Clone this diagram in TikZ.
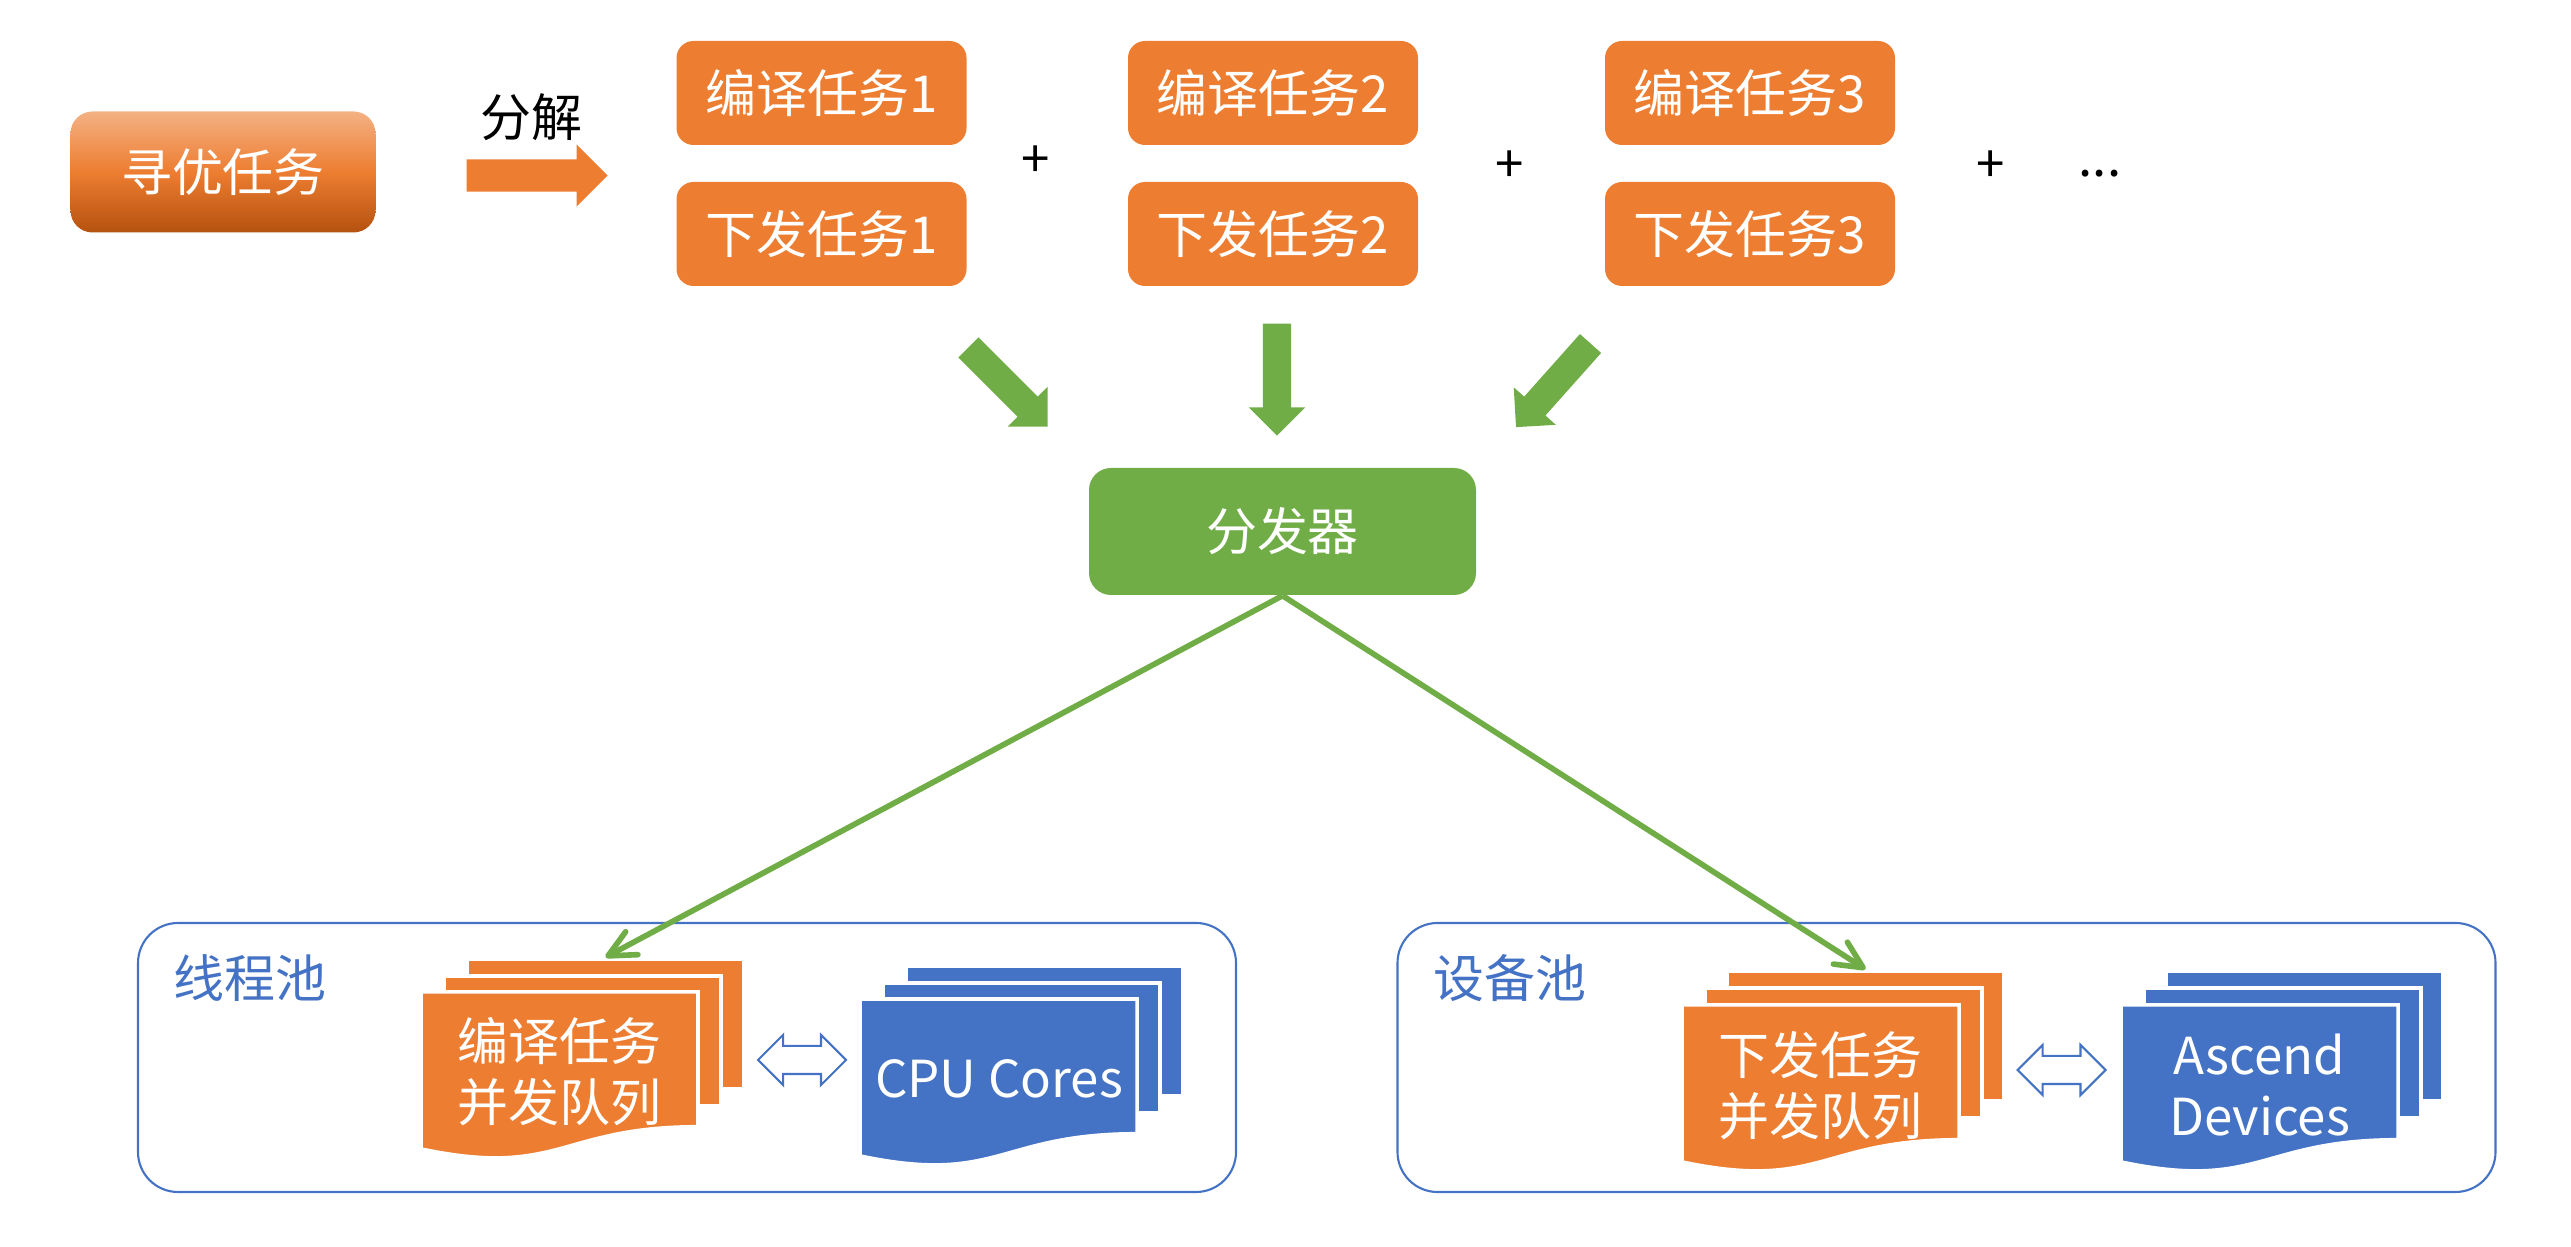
\documentclass[tikz,border=0pt]{standalone}
\usepackage{fontspec}
\setmainfont{Noto Sans CJK SC}
\usepackage{tikz}
\usetikzlibrary{shapes,arrows.meta,positioning}

\definecolor{myorange}{HTML}{ED7D31}
\definecolor{mygreen}{HTML}{70AD47}
\definecolor{myblue}{HTML}{4472C4}
\definecolor{orangetop}{HTML}{F4B183}
\definecolor{orangebot}{HTML}{B5520F}

\begin{document}
\begin{tikzpicture}[
    font={\fontsize{14.5pt}{17.3pt}\selectfont},
    task/.style={fill=myorange, text=white, rounded corners=0.17cm, minimum width=2.9cm, minimum height=1.04cm, inner sep=0},
    garrow/.style={single arrow, fill=mygreen, minimum height=1.12cm, inner xsep=0, inner ysep=0.135cm, single arrow head extend=0.14cm, anchor=tail},
    feed/.style={draw=mygreen, line width=1.6pt, -{Straight Barb[length=2.7mm, width=2.6mm, round]}},
    pool/.style={draw=myblue, line width=0.6pt, rounded corners=0.4cm, minimum width=10.98cm, minimum height=2.69cm},
    page/.style={draw=white, line width=1pt, minimum width=2.77cm, minimum height=1.3cm, inner sep=0},
    front/.style={draw=white, line width=1pt},
    qtext/.style={text=white, align=center},
    link/.style={double arrow, draw=myblue, fill=white, line width=0.6pt, minimum height=0.88cm, inner xsep=0, inner ysep=0.13cm, double arrow head extend=0.11cm}
]
    \useasboundingbox (0,0) rectangle (25.71,12.47);

    % the search task and its split
    \node[text=white, rounded corners=0.22cm, minimum width=3.05cm, minimum height=1.21cm, top color=orangetop, bottom color=orangebot, middle color=myorange] (search) at (2.23,10.75) {寻优任务};
    \node[single arrow, fill=myorange, minimum height=1.41cm, inner xsep=0, inner ysep=0.155cm, single arrow head extend=0.15cm, anchor=tail] (split) at (4.66,10.715) {};
    \node (splitlabel) at (5.31,11.30) {分解};

    \node[task] (comp1) at (8.215,11.54) {编译任务1};
    \node[task] (issue1) at (8.215,10.13) {下发任务1};
    \node[task] (comp2) at (12.73,11.54) {编译任务2};
    \node[task] (issue2) at (12.73,10.13) {下发任务2};
    \node[task] (comp3) at (17.50,11.54) {编译任务3};
    \node[task] (issue3) at (17.50,10.13) {下发任务3};

    \node (plus1) at (10.36,10.855) {+};
    \node (plus2) at (15.10,10.80) {+};
    \node (plus3) at (19.91,10.80) {+};
    \node (more) at (21.00,10.73) {...};

    \node[garrow, rotate=-45] (g1) at (9.68,9.00) {};
    \node[garrow, rotate=-90] (g2) at (12.77,9.24) {};
    \node[garrow, rotate=-131.7] (g3) at (15.91,9.04) {};

    \node[fill=mygreen, text=white, rounded corners=0.22cm, minimum width=3.87cm, minimum height=1.27cm] (disp) at (12.825,7.155) {分发器};

    % pools
    \node[pool] (tpool) at (6.87,1.895) {};
    \node[pool] (dpool) at (19.465,1.895) {};
    \node[text=myblue] (tlabel) at (2.50,2.69) {线程池};
    \node[text=myblue] (dlabel) at (15.10,2.69) {设备池};

    % compile queue
    \node[page, fill=myorange] (cq-back) at (6.055,2.23) {};
    \node[page, fill=myorange] (cq-mid) at (5.825,2.06) {};
    \filldraw[front, fill=myorange] (4.21,2.55) -- ++(2.77,0) -- ++(0,-1.347) .. controls +(-1.385,0) and +(1.385,-0.292) .. ++(-2.77,-0.222) -- cycle;
    \node[qtext] (cq) at (5.595,1.755) {编译任务\\并发队列};

    % cpu cores
    \node[page, fill=myblue] (cpu-back) at (10.445,2.16) {};
    \node[page, fill=myblue] (cpu-mid) at (10.215,1.99) {};
    \filldraw[front, fill=myblue] (8.60,2.48) -- ++(2.77,0) -- ++(0,-1.347) .. controls +(-1.385,0) and +(1.385,-0.292) .. ++(-2.77,-0.222) -- cycle;
    \node[qtext] (cpu) at (9.99,1.68) {CPU Cores};

    % issue queue
    \node[page, fill=myorange] (iq-back) at (18.655,2.11) {};
    \node[page, fill=myorange] (iq-mid) at (18.435,1.94) {};
    \filldraw[front, fill=myorange] (16.82,2.42) -- ++(2.77,0) -- ++(0,-1.347) .. controls +(-1.385,0) and +(1.385,-0.292) .. ++(-2.77,-0.222) -- cycle;
    \node[qtext] (iq) at (18.205,1.615) {下发任务\\并发队列};

    % devices
    \node[page, fill=myblue] (dev-back) at (23.045,2.11) {};
    \node[page, fill=myblue] (dev-mid) at (22.825,1.94) {};
    \filldraw[front, fill=myblue] (21.21,2.42) -- ++(2.77,0) -- ++(0,-1.347) .. controls +(-1.385,0) and +(1.385,-0.292) .. ++(-2.77,-0.222) -- cycle;
    \node[qtext] (dev) at (22.595,1.62) {Ascend\\Devices};

    \node[link] (link1) at (8.02,1.87) {};
    \node[link] (link2) at (20.615,1.77) {};

    \draw[feed] (disp.south) -- (cq-back.north);
    \draw[feed] (disp.south) -- (iq-back.north);
\end{tikzpicture}
\end{document}
